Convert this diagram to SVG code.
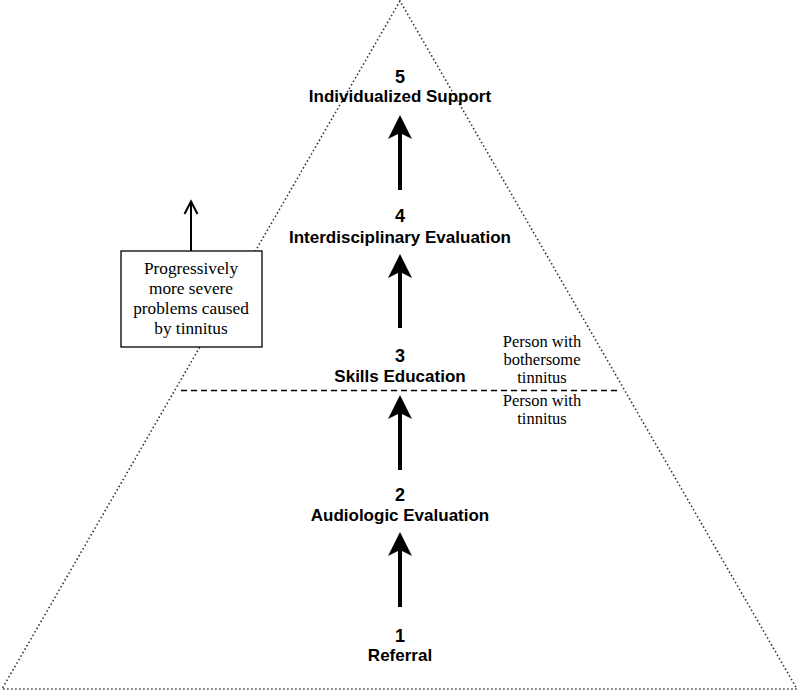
<svg xmlns="http://www.w3.org/2000/svg" width="800" height="693" viewBox="0 0 800 693">
<defs>
<style>
.num{font-family:"Liberation Sans",Arial,sans-serif;font-weight:bold;font-size:18px;text-anchor:middle;fill:#000}
.lbl{font-family:"Liberation Sans",Arial,sans-serif;font-weight:bold;font-size:17px;text-anchor:middle;fill:#000}
.ser{font-family:"Liberation Serif","Times New Roman",serif;font-size:17.3px;text-anchor:middle;fill:#000}
.ser2{font-family:"Liberation Serif","Times New Roman",serif;font-size:16.5px;text-anchor:middle;fill:#000}
.shaft{stroke:#000;stroke-width:4;fill:none}
.head{fill:#000}
</style>
</defs>
<rect width="800" height="693" fill="#fff"/>
<g id="pyramid">
<path d="M400,1 L2,689 L797,689 Z" fill="none" stroke="#333" stroke-width="1.6" stroke-dasharray="1.5 2.5"/>
</g>
<g id="divider">
<line x1="181" y1="390.5" x2="621" y2="390.5" stroke="#000" stroke-width="1.3" stroke-dasharray="6 4"/>
</g>
<g id="connectors">
<line class="shaft" x1="400" y1="133" x2="400" y2="190"/>
<path class="head" d="M400,115 L388,139 L400,133 L412,139 Z"/>
<line class="shaft" x1="400" y1="272" x2="400" y2="328"/>
<path class="head" d="M400,254 L388,278 L400,272 L412,278 Z"/>
<line class="shaft" x1="400" y1="413" x2="400" y2="470"/>
<path class="head" d="M400,395 L388,419 L400,413 L412,419 Z"/>
<line class="shaft" x1="400" y1="550" x2="400" y2="607"/>
<path class="head" d="M400,532 L388,556 L400,550 L412,556 Z"/>
<line x1="191" y1="251" x2="191" y2="203" stroke="#000" stroke-width="2"/>
<path d="M184.5,214 L191,201.5 L197.5,214" fill="none" stroke="#000" stroke-width="2"/>
</g>
<g id="node5">
<text class="num" x="400" y="83">5</text>
<text class="lbl" x="400" y="102">Individualized Support</text>
</g>
<g id="node4">
<text class="num" x="400" y="222">4</text>
<text class="lbl" x="400" y="243">Interdisciplinary Evaluation</text>
</g>
<g id="node3">
<text class="num" x="400" y="362">3</text>
<text class="lbl" x="400" y="382">Skills Education</text>
</g>
<g id="node2">
<text class="num" x="400" y="501">2</text>
<text class="lbl" x="400" y="521">Audiologic Evaluation</text>
</g>
<g id="node1">
<text class="num" x="400" y="642">1</text>
<text class="lbl" x="400" y="661">Referral</text>
</g>
<g id="severity-box">
<rect x="121" y="251" width="141" height="96" fill="#fff" stroke="#000" stroke-width="1.3"/>
<text class="ser" x="191" y="274">Progressively</text>
<text class="ser" x="191" y="294">more severe</text>
<text class="ser" x="191" y="314">problems caused</text>
<text class="ser" x="191" y="334">by tinnitus</text>
</g>
<g id="bothersome-label">
<text class="ser2" x="542" y="347">Person with</text>
<text class="ser2" x="542" y="365">bothersome</text>
<text class="ser2" x="542" y="383">tinnitus</text>
</g>
<g id="tinnitus-label">
<text class="ser2" x="542" y="406">Person with</text>
<text class="ser2" x="542" y="424">tinnitus</text>
</g>
</svg>
